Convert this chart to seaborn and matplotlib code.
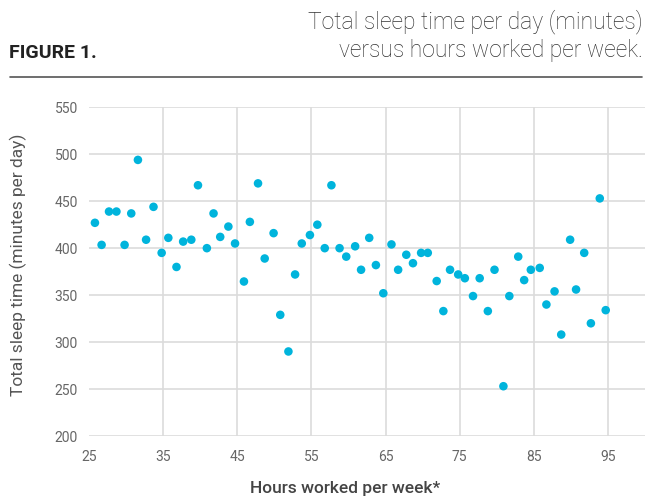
import numpy as np
import pandas as pd
import matplotlib
matplotlib.use("Agg")
import matplotlib.pyplot as plt
import seaborn as sns

hours = [25.8, 26.7, 27.7, 28.7, 29.8, 30.7, 31.6, 32.7, 33.7, 34.8, 35.7, 36.8, 37.7, 38.8,
         39.7, 40.9, 41.8, 42.7, 43.8, 44.7, 45.9, 46.7, 47.8, 48.7, 49.9, 50.8, 51.9, 52.8,
         53.7, 54.8, 55.8, 56.8, 57.7, 58.8, 59.7, 60.9, 61.7, 62.8, 63.7, 64.7, 65.8, 66.7,
         67.8, 68.7, 69.8, 70.7, 71.9, 72.8, 73.7, 74.8, 75.7, 76.8, 77.7, 78.8, 79.7, 80.9,
         81.7, 82.9, 83.7, 84.6, 85.8, 86.7, 87.8, 88.7, 89.9, 90.7, 91.8, 92.7, 93.9, 94.7]
sleep = [427, 403.5, 439, 439, 403.5, 437, 494, 409, 444, 395, 411, 380, 407, 409,
         467, 400, 437, 412, 423, 405, 364.5, 428, 469, 389, 416, 329, 290, 372,
         405, 414, 425, 400, 467, 400, 391, 402, 377, 411, 382, 352, 404, 377,
         393, 384, 395, 395, 365, 333, 377, 372, 368, 349, 368, 333, 377, 253,
         349, 391, 366, 377, 379, 340, 354, 308, 409, 356, 395, 320, 453, 334]
x_ticks = [25, 35, 45, 55, 65, 75, 85, 95]
y_ticks = [200, 250, 300, 350, 400, 450, 500, 550]

df = pd.DataFrame({"hours": hours, "sleep": sleep})

sns.set_theme(style="white")
plt.rcParams['font.family'] = ['Roboto', 'DejaVu Sans']

fig = plt.figure(figsize=(6.46, 4.99), dpi=100)
ax = fig.add_axes([89/646, 1-436/499, (645-89)/646, (436-107.3)/499])

sns.scatterplot(data=df, x="hours", y="sleep", ax=ax, color="#00b4dc",
                s=38, edgecolor="none", zorder=3)

ax.set_xlim(25, 100)
ax.set_ylim(200, 550)
ax.set_xticks(x_ticks)
ax.set_yticks(y_ticks)
ax.grid(True, color="#dcdcdc", linewidth=1.2)
ax.set_axisbelow(True)
for s in ax.spines.values():
    s.set_visible(False)
ax.tick_params(axis="both", length=0, labelsize=10, colors="#666666", pad=8)
ax.tick_params(axis="x", pad=10)
fig.canvas.draw()
ax.xaxis.get_gridlines()[0].set_visible(False)

ax.set_xlabel("")
ax.set_ylabel("")
fig.text(345/646, 1-489/499, "Hours worked per week*", fontsize=12.5, color="#444444",
         fontweight="medium", ha="center", va="center")
fig.text(18/646, 1-265/499, "Total sleep time (minutes per day)", fontsize=12.5,
         color="#555555", ha="center", va="center", rotation=90)

fig.text(9/646, 1-53/499, "FIGURE 1.", fontsize=14, fontweight="bold", color="#222222",
         ha="left", va="center")
fig.text(643/646, 1-22/499, "Total sleep time per day (minutes)", fontsize=16.5,
         fontweight="light", color="#333333", ha="right", va="center")
fig.text(643/646, 1-51/499, "versus hours worked per week.", fontsize=16.5,
         fontweight="light", color="#333333", ha="right", va="center")
fig.add_artist(plt.Line2D([10/646, 642/646], [1-77/499, 1-77/499], color="#555555",
                          linewidth=1.2, transform=fig.transFigure))

fig.savefig("out.png", dpi=100)
